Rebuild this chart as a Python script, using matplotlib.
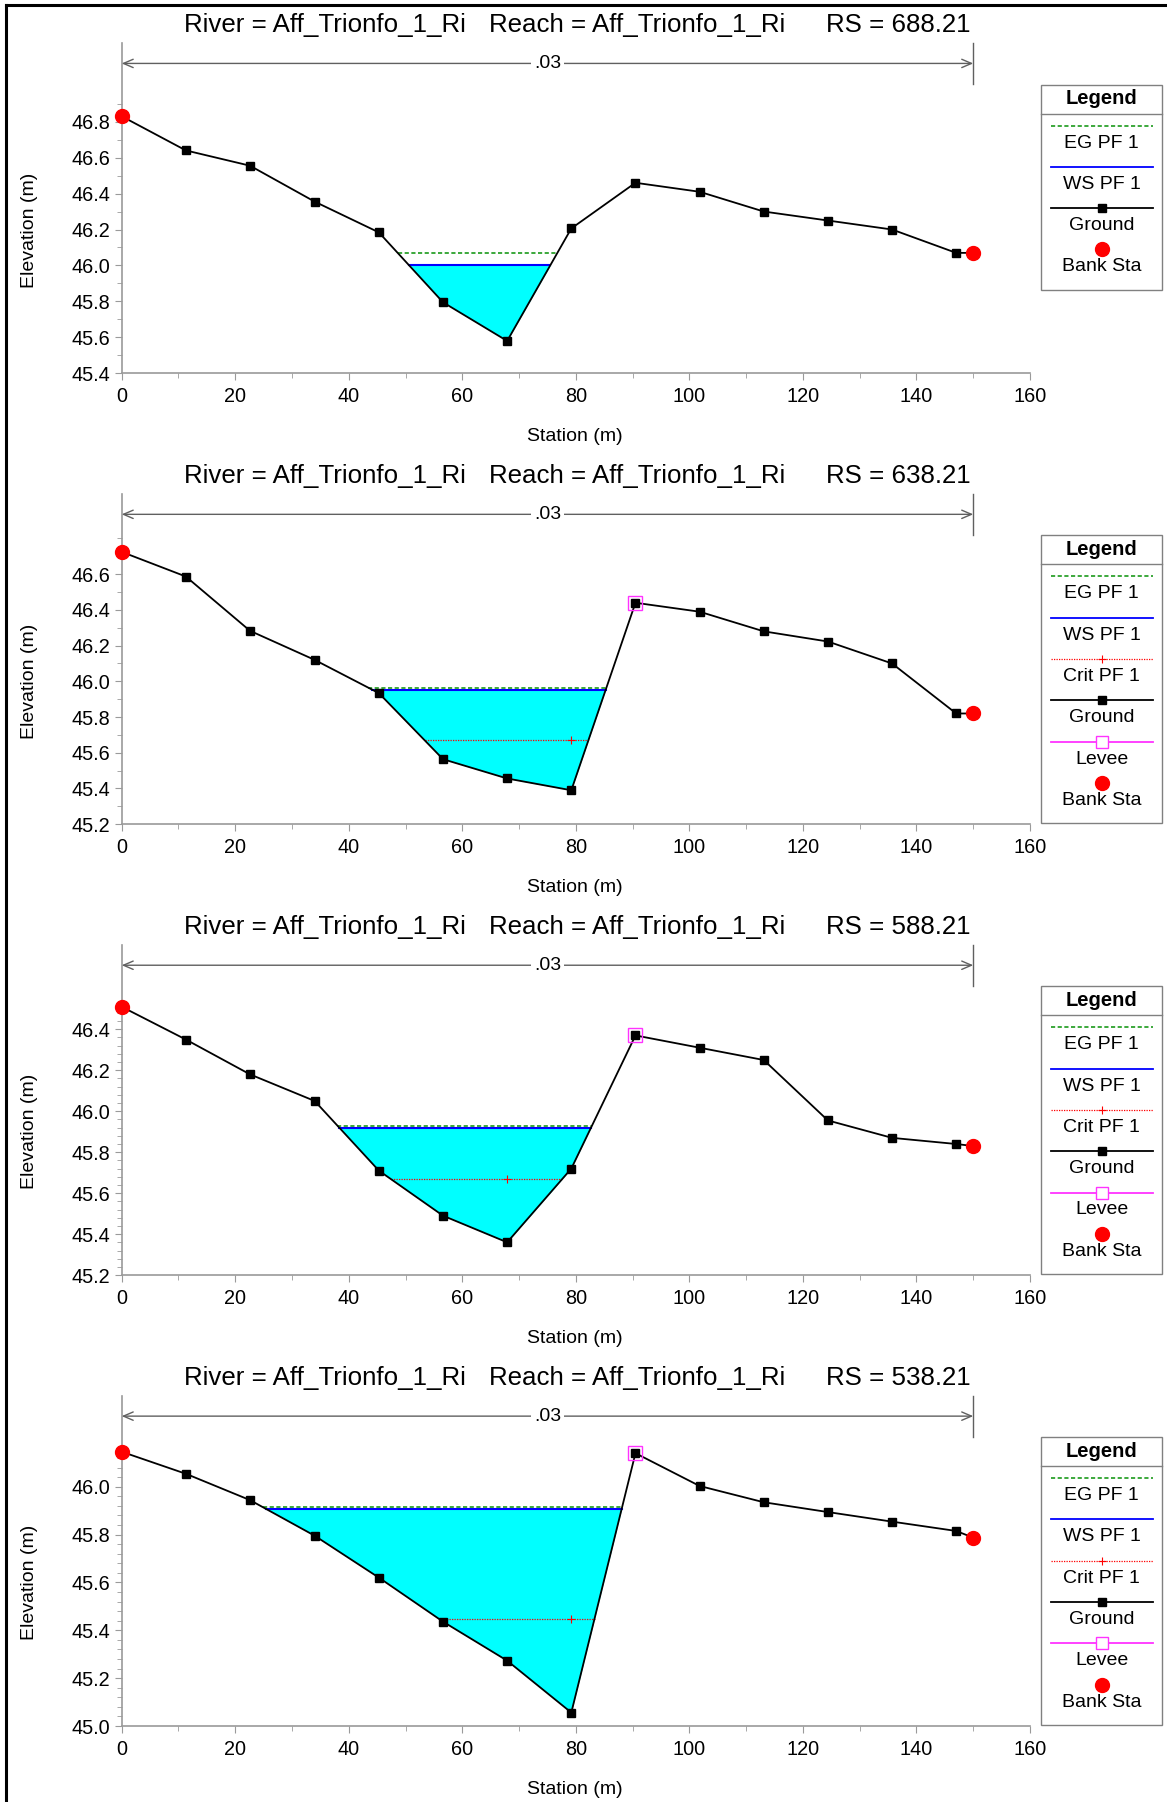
import numpy as np
import matplotlib
matplotlib.use("Agg")
import matplotlib.pyplot as plt
from matplotlib.patches import Rectangle

plt.rcParams['font.family'] = ['Liberation Sans', 'DejaVu Sans']

# Cross-section data (stations in m, elevations in m)
stations = [0.0, 11.3, 22.6, 34.0, 45.3, 56.6, 67.9, 79.2, 90.5, 101.8, 113.1, 124.4, 135.7, 147.0, 150.0]

rs_labels = ['688.21', '638.21', '588.21', '538.21']

ground_688 = [46.83, 46.64, 46.555, 46.355, 46.184, 45.795, 45.58, 46.206, 46.46, 46.41, 46.30, 46.25, 46.20, 46.07, 46.07]
ground_638 = [46.725, 46.587, 46.283, 46.12, 45.934, 45.564, 45.456, 45.39, 46.44, 46.39, 46.28, 46.223, 46.10, 45.82, 45.82]
ground_588 = [46.51, 46.35, 46.18, 46.05, 45.71, 45.49, 45.36, 45.72, 46.37, 46.31, 46.25, 45.955, 45.87, 45.84, 45.83]
ground_538 = [46.146, 46.054, 45.944, 45.795, 45.62, 45.436, 45.273, 45.056, 46.14, 46.003, 45.935, 45.894, 45.854, 45.815, 45.787]
grounds = [ground_688, ground_638, ground_588, ground_538]

eg_pf1 = [46.07, 45.965, 45.93, 45.915]
ws_pf1 = [46.00, 45.953, 45.92, 45.908]
crit_pf1 = [None, 45.67, 45.67, 45.448]
levee_idx = [None, 8, 8, 8]
bank_idx = [0, 14]
mannings_n = '.03'

y_min = [45.4, 45.2, 45.2, 45.0]
y_max = [47.236, 47.048, 46.811, 46.379]
y_minor_step = [0.1, 0.1, 0.04, 0.04]

W, H = 1167, 1802
STEP = 450.9
fig = plt.figure(figsize=(W / 100, H / 100), dpi=100)

GRAY = '#9a9a9a'
EG_C = '#1a9a1a'
WS_C = '#0000ff'
CRIT_C = '#ff0000'
LEVEE_C = '#ff33ff'
BANK_C = '#ff0000'


def crossing(x, g, level):
    # where the water level meets the ground on each side of the thalweg
    x = np.asarray(x)
    g = np.asarray(g)
    i0 = int(np.argmin(g))
    i = i0
    while i > 0 and g[i - 1] < level:
        i -= 1
    xl = np.interp(level, [g[i], g[i - 1]], [x[i], x[i - 1]]) if i > 0 else x[0]
    j = i0
    while j < len(g) - 1 and g[j + 1] < level:
        j += 1
    xr = np.interp(level, [g[j], g[j + 1]], [x[j], x[j + 1]]) if j < len(g) - 1 else x[-1]
    return xl, xr


for k in range(4):
    x = np.array(stations)
    g = np.array(grounds[k])
    bottom_px = 373.3 + k * STEP
    ax = fig.add_axes([121.7 / W, 1 - bottom_px / H, (1030 - 121.7) / W, 330 / H])
    ax.patch.set_visible(False)
    ax.set_xlim(0, 160)
    ax.set_ylim(y_min[k], y_max[k])

    # water fill
    wl, wr = crossing(x, g, ws_pf1[k])
    inside = (x > wl) & (x < wr)
    xf = np.concatenate([[wl], x[inside], [wr]])
    gf = np.interp(xf, x, g)
    ax.fill_between(xf, gf, ws_pf1[k], color='#00ffff', lw=0, zorder=1)

    if crit_pf1[k] is not None:
        cl, cr = crossing(x, g, crit_pf1[k])
        ax.plot([cl, cr], [crit_pf1[k]] * 2, color=CRIT_C, lw=0.9, ls=(0, (1, 1)), zorder=2)
        ax.plot([x[np.argmin(g)]], [crit_pf1[k]], marker='+', color=CRIT_C, ms=6, mew=0.8, zorder=2)

    ax.plot([wl, wr], [ws_pf1[k]] * 2, color=WS_C, lw=1.5, zorder=3)
    el, er = crossing(x, g, eg_pf1[k])
    ax.plot([el, er], [eg_pf1[k]] * 2, color=EG_C, lw=1.2, ls=(0, (2.5, 1.5)), zorder=4)

    ax.plot(x, g, color='black', lw=1.3, marker='s', ms=6, mfc='black', mec='black', zorder=5)

    if levee_idx[k] is not None:
        li = levee_idx[k]
        ax.plot([x[li]], [g[li]], marker='s', ms=9.5, mfc='none', mec=LEVEE_C, mew=1, zorder=6)

    ax.plot(x[bank_idx], g[bank_idx], ls='none', marker='o', ms=10, color=BANK_C, zorder=7, clip_on=False)

    # n-value bar
    tr = ax.get_xaxis_transform()
    ax.annotate('', xy=(x[0], 0.939), xytext=(x[-1], 0.939), xycoords=tr, textcoords=tr,
                arrowprops=dict(arrowstyle='<->,head_length=0.7,head_width=0.3', color='#606060',
                                lw=1, shrinkA=0, shrinkB=0))
    ax.plot([x[-1], x[-1]], [0.877, 1.0], transform=tr, color='#606060', lw=1, clip_on=False)
    ax.text((x[0] + x[-1]) / 2, 0.939, mannings_n, transform=tr, ha='center', va='center',
            fontsize=14, bbox=dict(boxstyle='square,pad=0.15', fc='white', ec='none'))

    # axes styling
    for s in ['top', 'right']:
        ax.spines[s].set_visible(False)
    for s in ['left', 'bottom']:
        ax.spines[s].set_color(GRAY)
        ax.spines[s].set_linewidth(1.2)
    ax.set_xticks(np.arange(0, 161, 20))
    ax.set_xticks(np.arange(10, 160, 20), minor=True)
    top_major = np.floor(g.max() / 0.2 + 1e-6) * 0.2
    ax.set_yticks(np.arange(y_min[k], top_major + 1e-6, 0.2))
    st = y_minor_step[k]
    top_minor = y_min[k] + np.ceil((g.max() - y_min[k]) / st - 1e-6) * st
    ax.set_yticks(np.arange(y_min[k], top_minor + 1e-6, st), minor=True)
    ax.yaxis.set_major_formatter(matplotlib.ticker.FormatStrFormatter('%.1f'))
    ax.tick_params(which='major', length=5, color=GRAY, labelsize=14.3, pad=3)
    ax.tick_params(which='minor', length=3.5, color=GRAY)
    ax.tick_params(axis='x', which='major', pad=5)

# overlay in pixel coordinates for titles, labels, legends and border
ov = fig.add_axes([0, 0, 1, 1], zorder=10)
ov.set_xlim(0, W)
ov.set_ylim(H, 0)
ov.axis('off')

ov.plot([6, 6], [H, 5], color='black', lw=2.2, solid_capstyle='projecting')
ov.plot([6, W], [5, 5], color='black', lw=2.2, solid_capstyle='projecting')

river = 'Aff_Trionfo_1_Ri'
for k in range(4):
    off = k * STEP
    ov.text(184, 25 + off, 'River = ' + river, fontsize=18.6, ha='left', va='center')
    ov.text(488.6, 25 + off, 'Reach = ' + river, fontsize=18.6, ha='left', va='center')
    ov.text(825.5, 25 + off, 'RS = ' + rs_labels[k], fontsize=18.6, ha='left', va='center')
    ov.text(29.5, 230 + off, 'Elevation (m)', fontsize=14, rotation=90, ha='center', va='center')
    ov.text(575, 436.7 + off, 'Station (m)', fontsize=14, ha='center', va='center')

    entries = ['EG PF 1', 'WS PF 1']
    if crit_pf1[k] is not None:
        entries.append('Crit PF 1')
    entries.append('Ground')
    if levee_idx[k] is not None:
        entries.append('Levee')
    entries.append('Bank Sta')

    bx0, bx1 = 1040.5, 1162
    top = 84.5 + off
    y_last = 125.5 + off + 41.3 * (len(entries) - 1) + 17.5
    ov.add_patch(Rectangle((bx0, top), bx1 - bx0, y_last + 23 - top, fill=False, ec='#808080', lw=1))
    ov.plot([bx0, bx1], [113.5 + off] * 2, color='#808080', lw=1)
    ov.text((bx0 + bx1) / 2, 98.5 + off, 'Legend', fontsize=14.5, fontweight='bold', ha='center', va='center')
    lx0, lx1, cx = 1050.5, 1152.8, 1101.6
    for i, name in enumerate(entries):
        yl = 125.5 + off + 41.3 * i
        if name == 'EG PF 1':
            ov.plot([lx0, lx1], [yl, yl], color=EG_C, lw=1.2, ls=(0, (2.5, 1.5)))
        elif name == 'WS PF 1':
            ov.plot([lx0, lx1], [yl, yl], color=WS_C, lw=1.3)
        elif name == 'Crit PF 1':
            ov.plot([lx0, lx1], [yl, yl], color=CRIT_C, lw=0.9, ls=(0, (1, 1)))
            ov.plot([cx], [yl], marker='+', color=CRIT_C, ms=6, mew=0.8)
        elif name == 'Ground':
            ov.plot([lx0, lx1], [yl, yl], color='black', lw=1.3)
            ov.plot([cx], [yl], marker='s', ms=6, color='black')
        elif name == 'Levee':
            ov.plot([lx0, lx1], [yl, yl], color=LEVEE_C, lw=1.3)
            ov.plot([cx], [yl], marker='s', ms=9, mfc='white', mec=LEVEE_C, mew=1)
        else:
            ov.plot([cx], [yl], marker='o', ms=10, color=BANK_C)
        ov.text(cx, yl + 17.5, name, fontsize=14, ha='center', va='center')

fig.savefig('out.png', dpi=100)
